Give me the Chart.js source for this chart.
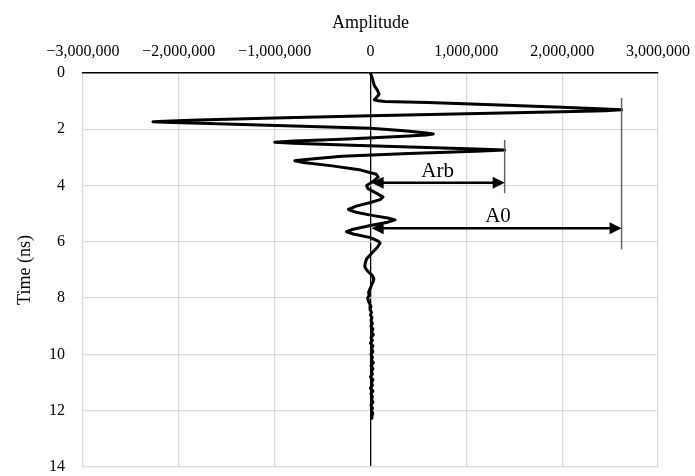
<!DOCTYPE html>
<html>
<head>
<meta charset="utf-8">
<script src="https://cdn.jsdelivr.net/npm/chart.js@4.4.1/dist/chart.umd.min.js"></script>
<style>
  html, body { margin: 0; padding: 0; background: #fff; }
  #wrap { width: 695px; height: 476px; }
</style>
</head>
<body>
<div id="wrap"><canvas id="trace-chart" width="695" height="476"></canvas></div>
<script>
  // 波形データ（振幅, 時間 ns）
  const amplitude = [
    0, 20000, 40000, 70000, 90000, 60000, 40000, 80000, 150000, 600000, 1200000, 2000000, 2450000, 2620000,
    2450000, 2000000, 1000000, 0, -1000000, -1800000, -2150000, -2270000, -2150000, -1600000,
    -800000, 0, 350000, 580000, 655000, 580000, 300000, -300000, -800000, -1000000, -800000,
    -200000, 500000, 1100000, 1400000, 1100000, 400000, -300000, -700000, -790000, -700000,
    -400000, -100000, 60000, 80000, 30000, -40000, -30000, 50000, 130000, 100000, 0, -150000,
    -230000, -150000, 0, 180000, 256000, 180000, 0, -180000, -250000, -180000, 0, 80000, 100000,
    70000, 0, -40000, -55000, -60000, -40000, -10000, 20000, 35000, 30000, 15000, 5000, -10000,
    -20000, -15000, -30000, -25000, -10000, 5000, -5000, 10000, 0, 15000, 5000, 20000, 5000,
    25000, 10000, 30000, 5000, 20000, 0, 25000, 10000, 25000, 5000, 20000, 10000, 30000, 5000,
    25000, 10000, 20000, 0, 25000, 10000, 20000, 0, 25000, 5000, 20000, 10000, 25000, 5000,
    20000, 10000, 25000, 10000, 15000
  ];
  const time = [
    0, 0.2, 0.45, 0.6, 0.75, 0.88, 0.95, 0.99, 1.01, 1.05, 1.12, 1.22, 1.28, 1.31,
    1.34, 1.38, 1.45, 1.52, 1.6, 1.67, 1.71, 1.73, 1.75, 1.8,
    1.88, 1.96, 2.05, 2.13, 2.17, 2.2, 2.26, 2.35, 2.42, 2.46, 2.5,
    2.57, 2.64, 2.7, 2.74, 2.78, 2.86, 2.96, 3.08, 3.12, 3.18,
    3.3, 3.45, 3.6, 3.7, 3.85, 4.0, 4.1, 4.25, 4.4, 4.5, 4.6, 4.73,
    4.85, 4.95, 5.05, 5.15, 5.22, 5.3, 5.42, 5.55, 5.64, 5.72, 5.85, 5.97, 6.05,
    6.2, 6.45, 6.6, 6.75, 6.88, 7.0, 7.1, 7.2, 7.3, 7.4, 7.5, 7.6, 7.7,
    7.8, 7.9, 8.0, 8.07, 8.2, 8.3, 8.4, 8.5, 8.6, 8.7, 8.78, 8.9, 9.0,
    9.1, 9.2, 9.3, 9.4, 9.5, 9.6, 9.7, 9.8, 9.9, 10.0, 10.1, 10.2, 10.3, 10.4,
    10.5, 10.6, 10.7, 10.8, 10.9, 11.0, 11.1, 11.2, 11.3, 11.4, 11.5, 11.6, 11.7, 11.8,
    11.9, 12.0, 12.1, 12.2, 12.27
  ];

  // 軸の目盛り
  const ampTicks = [-3000000, -2000000, -1000000, 0, 1000000, 2000000, 3000000];
  const timeTicks = [0, 2, 4, 6, 8, 10, 12, 14];

  // 矢印の注記（Arb, A0）
  const arrowLabels = ['Arb', 'A0'];
  const arrowTime = [3.9, 5.52];
  const arrowFrom = [12000, 12000];
  const arrowTo = [1400000, 2620000];
  const labelAmp = [700000, 1330000];
  const markerTop = [2.38, 0.89];
  const markerBottom = [4.27, 6.27];

  const fmt = (v) => {
    const s = Math.abs(v).toLocaleString('en-US');
    return v < 0 ? '\u2212' + s : s;
  };

  const serif = "'Liberation Serif', 'Times New Roman', serif";

  const arrowPlugin = {
    id: 'arrows',
    afterDatasetsDraw(chart) {
      const { ctx, scales } = chart;
      const xs = scales.x;
      const ys = scales.y;
      ctx.save();
      arrowLabels.forEach((label, i) => {
        // 縦線
        const mx = xs.getPixelForValue(arrowTo[i]);
        ctx.strokeStyle = '#666666';
        ctx.lineWidth = 1.5;
        ctx.beginPath();
        ctx.moveTo(mx, ys.getPixelForValue(markerTop[i]));
        ctx.lineTo(mx, ys.getPixelForValue(markerBottom[i]));
        ctx.stroke();

        // 矢印
        const y = ys.getPixelForValue(arrowTime[i]);
        const x1 = xs.getPixelForValue(arrowFrom[i]);
        const x2 = xs.getPixelForValue(arrowTo[i]);
        const head = 12;
        ctx.strokeStyle = '#000';
        ctx.fillStyle = '#000';
        ctx.lineWidth = 2.5;
        ctx.beginPath();
        ctx.moveTo(x1 + head - 2, y);
        ctx.lineTo(x2 - head + 2, y);
        ctx.stroke();
        ctx.beginPath();
        ctx.moveTo(x1, y);
        ctx.lineTo(x1 + head, y - 6);
        ctx.lineTo(x1 + head, y + 6);
        ctx.closePath();
        ctx.fill();
        ctx.beginPath();
        ctx.moveTo(x2, y);
        ctx.lineTo(x2 - head, y - 6);
        ctx.lineTo(x2 - head, y + 6);
        ctx.closePath();
        ctx.fill();

        // ラベル
        ctx.font = '21px ' + serif;
        ctx.textAlign = 'center';
        ctx.textBaseline = 'alphabetic';
        ctx.fillText(label, xs.getPixelForValue(labelAmp[i]), y - 6);
      });
      ctx.restore();
    },
  };

  const points = amplitude.map((a, i) => ({ x: a, y: time[i] }));

  const ctx = document.getElementById('trace-chart').getContext('2d');
  new Chart(ctx, {
    type: 'scatter',
    data: {
      datasets: [
        {
          label: 'Trace',
          data: points,
          showLine: true,
          borderColor: '#000',
          borderWidth: 3,
          pointRadius: 0,
          tension: 0,
          borderJoinStyle: 'round',
          borderCapStyle: 'round',
        },
      ],
    },
    options: {
      responsive: false,
      animation: false,
      layout: { padding: { left: 0, top: 0, right: 37, bottom: 9 } },
      plugins: {
        legend: { display: false },
        tooltip: { enabled: false },
      },
      scales: {
        x: {
          type: 'linear',
          position: 'top',
          min: ampTicks[0],
          max: ampTicks[ampTicks.length - 1],
          afterBuildTicks: (s) => { s.ticks = ampTicks.map((v) => ({ value: v })); },
          afterFit: (s) => { s.height = 73; s.paddingLeft = 0; s.paddingRight = 0; },
          ticks: {
            callback: (v) => fmt(v),
            color: '#000',
            padding: 12,
            maxRotation: 0,
            font: { family: serif, size: 16 },
          },
          grid: {
            drawTicks: false,
            color: (c) => (c.tick && c.tick.value === 0 ? '#000' : '#d9d9d9'),
            lineWidth: 1.3,
          },
          border: { display: true, color: '#000', width: 1.5 },
          title: {
            display: true,
            text: 'Amplitude',
            color: '#000',
            font: { family: serif, size: 18 },
            padding: { top: 12, bottom: 0 },
          },
        },
        y: {
          type: 'linear',
          reverse: true,
          min: timeTicks[0],
          max: timeTicks[timeTicks.length - 1],
          afterBuildTicks: (s) => { s.ticks = timeTicks.map((v) => ({ value: v })); },
          afterFit: (s) => { s.width = 83; s.paddingTop = 0; s.paddingBottom = 0; },
          ticks: {
            color: '#000',
            padding: 18,
            font: { family: serif, size: 16 },
          },
          grid: {
            drawTicks: false,
            color: '#d9d9d9',
            lineWidth: 1.3,
          },
          border: { display: false },
          title: {
            display: true,
            text: 'Time (ns)',
            color: '#000',
            font: { family: serif, size: 18 },
            padding: { top: 14, bottom: 0 },
          },
        },
      },
    },
    plugins: [arrowPlugin],
  });
</script>
</body>
</html>
